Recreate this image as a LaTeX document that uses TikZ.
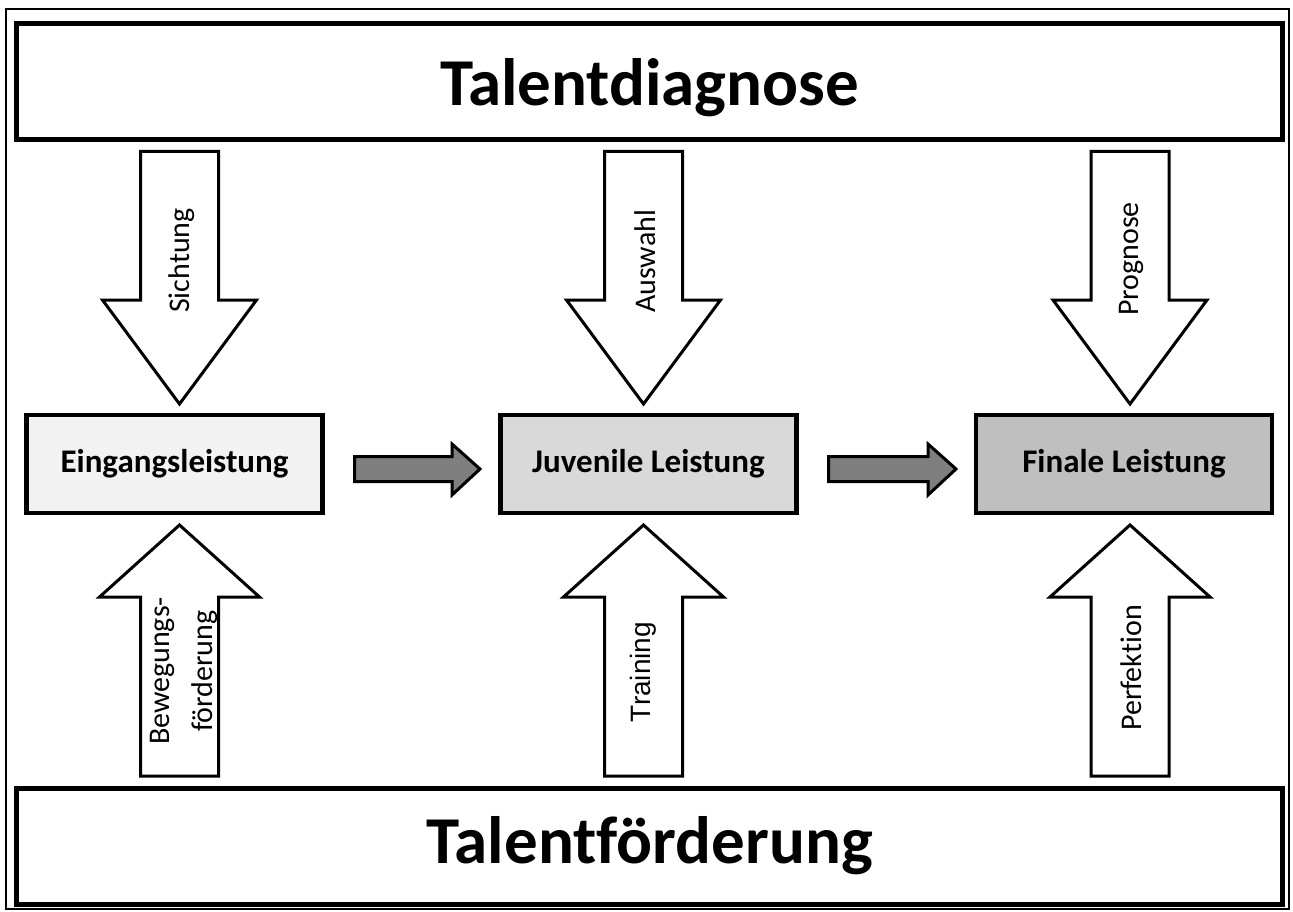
\documentclass[tikz,border=0pt]{standalone}
\usepackage{fontspec}
\setmainfont{Carlito}[Ligatures=NoCommon]
\newfontfamily\arialfont{Liberation Sans}
\definecolor{stageA}{HTML}{F2F2F2}
\definecolor{stageB}{HTML}{D9D9D9}
\definecolor{stageC}{HTML}{BFBFBF}
\definecolor{arrowgray}{HTML}{7F7F7F}

\begin{document}
\begin{tikzpicture}[x=1pt, y=-1pt, every node/.style={align=center},
  titlebox/.style={rectangle, draw, line width=5pt, minimum width=1266pt, minimum height=116pt, font=\fontsize{67}{80}\selectfont\bfseries},
  stagebox/.style={rectangle, draw, line width=4.5pt, minimum width=296pt, minimum height=98pt, font=\fontsize{33}{40}\selectfont\bfseries},
  bigarrow/.style={draw, line width=3pt, fill=white, line join=miter},
  grayarrow/.style={draw, line width=3pt, fill=arrowgray, line join=miter},
  arrowlabel/.style={rotate=90, inner sep=0pt, font=\fontsize{30}{43}\selectfont},
]
				\useasboundingbox (0,0) rectangle (1293,912);
				\draw[line width=2.5pt] (6,9) rectangle (1289,909);

				% Nodes
				\node (diag) [titlebox, text height=53pt, text depth=4pt] at (649.5,81.5) {Talentdiagnose};
				\node (foerd) [titlebox] at (649.75,846) {Talentförderung};
				\node (eing) [stagebox, fill=stageA] at (174.5,464) {Eingangsleistung};
				\node (juv) [stagebox, fill=stageB] at (648.5,464) {Juvenile Leistung};
				\node (fin) [stagebox, fill=stageC] at (1124,464) {Finale Leistung};

				% Arrows
				\foreach \x in {179.5, 643.5, 1130} {
					\draw[bigarrow] ({\x-39},151.5) -- ({\x+39},151.5) -- ({\x+39},300) -- ({\x+77},300)
						-- (\x,404) -- ({\x-77},300) -- ({\x-39},300) -- cycle;
					\draw[bigarrow] ({\x-39},776) -- ({\x+39},776) -- ({\x+39},597) -- ({\x+80},597)
						-- (\x,525) -- ({\x-80},597) -- ({\x-39},597) -- cycle;
				}
				\foreach \x/\y in {354.5/452, 828.5/928} {
					\draw[grayarrow] (\x,456.5) -- (\y,456.5) -- (\y,444) -- ({\y+28},469)
						-- (\y,495) -- (\y,481.5) -- (\x,481.5) -- cycle;
				}

				% Labels
				\node (sicht) [arrowlabel, anchor=west] at (182,313) {Sichtung};
				\node (ausw) [arrowlabel, anchor=west] at (645,313) {Auswahl};
				\node (progn) [arrowlabel, anchor=west] at (1131,316) {Prognose};
				\node (beweg) [arrowlabel] at (184,671) {Bewegungs-\\förderung};
				\node (train) [arrowlabel, font=\arialfont\fontsize{28}{34}\selectfont] at (643,672) {Training};
				\node (perf) [arrowlabel] at (1131,668) {Perfektion};
			\end{tikzpicture}
\end{document}
